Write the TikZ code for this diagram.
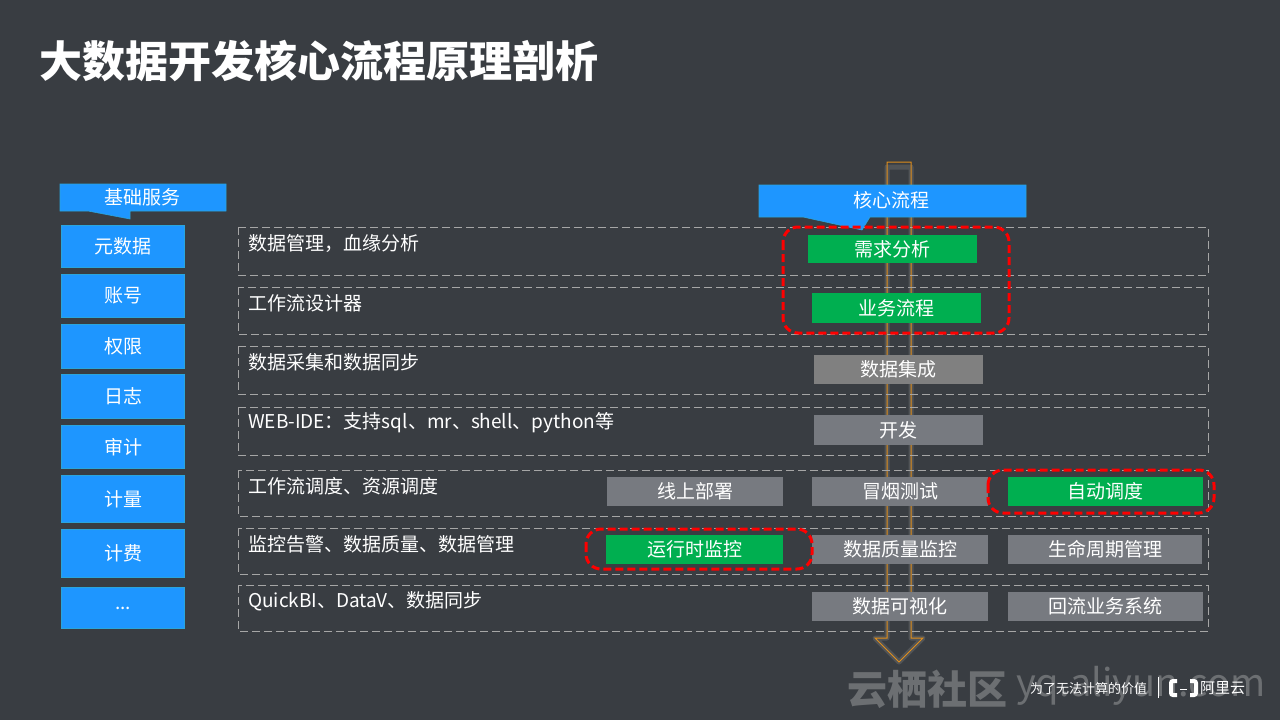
\documentclass[tikz,border=0pt]{standalone}
\usepackage{fontspec}
\usepackage{xcolor}
\setmainfont{Noto Sans CJK SC}
\definecolor{slideBg}{HTML}{393D42}
\definecolor{blueA}{HTML}{1E96FF}
\definecolor{blueB}{HTML}{2AA5DC}
\definecolor{greenA}{HTML}{00AF50}
\definecolor{grayA}{HTML}{777A80}
\definecolor{grayB}{HTML}{808080}
\definecolor{dashGray}{HTML}{A6A6A6}
\definecolor{arrowOrange}{HTML}{E08E1B}
\definecolor{markGray}{HTML}{6C6F72}
\tikzset{
  basebox/.style={draw=blueB,fill=blueA,line width=0.6pt},
  boxtext/.style={inner sep=0pt,text=white,font=\fontsize{19}{19}\selectfont},
  greenbox/.style={fill=greenA},
  graybox/.style={fill=grayA},
  rowbox/.style={draw=dashGray,dash pattern=on 8pt off 4pt,line width=0.9pt},
  redbox/.style={draw=red,line width=3pt,rounded corners=15pt,dash pattern=on 8pt off 4pt},
}
% box given by its two corners
\newcommand{\stepnode}[7]{%
  \pgfmathsetmacro{\boxcx}{(#2+#4)/2}
  \pgfmathsetmacro{\boxcy}{(#3+#5)/2}
  \pgfmathsetmacro{\boxw}{#4-#2-0.6}
  \pgfmathsetmacro{\boxh}{#5-#3-0.6}
  \node[#6,boxtext,minimum width=\boxw pt,minimum height=\boxh pt] (#1) at (\boxcx,\boxcy) {#7};
}
\begin{document}
\begin{tikzpicture}[x=1pt,y=-1pt]
  \fill[slideBg] (0,0) rectangle (1280,720);
  \useasboundingbox (0,0) rectangle (1280,720);

  \node[anchor=west,inner sep=0pt,text=white,font=\fontsize{43}{43}\selectfont\bfseries] (title) at (39,61) {大数据开发核心流程原理剖析};

  % big arrow behind the rows
  \draw[gray,opacity=0.35,line width=5pt,line join=round] (887,167) -- (911,167) -- (911,638) -- (923,638) -- (899,662) -- (875,638) -- (887,638) -- cycle;
  \draw[arrowOrange,line width=1pt] (887,162) -- (911,162) -- (911,638) -- (923,638) -- (899,662) -- (875,638) -- (887,638) -- cycle;

  % rows
  \foreach \rowname/\ya/\yb/\rowtext in {
    rowa/227/275/{数据管理，血缘分析},
    rowb/287/334/{工作流设计器},
    rowc/346/394/{数据采集和数据同步},
    rowd/407/455/{WEB-IDE：支持sql、mr、shell、python等},
    rowe/470/516/{工作流调度、资源调度},
    rowf/528/574/{监控告警、数据质量、数据管理},
    rowg/585/631/{QuickBI、DataV、数据同步}} {
    \draw[rowbox] (238,\ya) rectangle (1208,\yb);
    \pgfmathsetmacro{\ty}{\ya+16}
    \node[anchor=west,boxtext] (\rowname) at (248,\ty) {\rowtext};
  }

  % base services
  \draw[basebox] (60,184) -- (226,184) -- (226,211) -- (130,211) -- (130,219) -- (88,211) -- (60,211) -- cycle;
  \node[boxtext] (basetitle) at (142,197) {基础服务};
  \foreach \basename/\ya/\yb/\basetext in {
    basea/225/268/元数据, baseb/274/318/账号, basec/324/369/权限, based/374/419/日志,
    basee/425/469/审计, basef/475/523/计量, baseg/529/578/计费} {
    \stepnode{\basename}{61}{\ya}{185}{\yb}{basebox}{\basetext}
  }
  \stepnode{baseh}{61}{587}{185}{629}{basebox}{...}

  % core flow
  \draw[basebox] (759,185) -- (1026,185) -- (1026,217) -- (870,217) -- (862,230) -- (803,217) -- (759,217) -- cycle;
  \node[boxtext] (coretitle) at (891,200) {核心流程};

  \stepnode{need}{808}{235}{977}{263}{greenbox}{需求分析}
  \stepnode{biz}{812}{293}{981}{323}{greenbox}{业务流程}
  \stepnode{integ}{814}{355}{983}{384}{fill=grayB}{数据集成}
  \stepnode{dev}{814}{415}{983}{445}{graybox}{开发}
  \stepnode{deploy}{607}{477}{783}{506}{graybox}{线上部署}
  \stepnode{smoke}{812}{477}{988}{506}{graybox}{冒烟测试}
  \stepnode{sched}{1008}{477}{1203}{506}{greenbox}{自动调度}
  \stepnode{runmon}{606}{535}{783}{564}{greenbox}{运行时监控}
  \stepnode{qual}{812}{535}{988}{564}{graybox}{数据质量监控}
  \stepnode{life}{1008}{535}{1202}{564}{graybox}{生命周期管理}
  \stepnode{visual}{812}{592}{988}{621}{graybox}{数据可视化}
  \stepnode{back}{1008}{592}{1203}{621}{graybox}{回流业务系统}

  \draw[redbox] (783,227) rectangle (1009,333);
  \draw[redbox] (988,470) rectangle (1214,513);
  \draw[redbox] (586,529) rectangle (812,569);

  % footer
  \node[anchor=west,inner sep=0pt,text=markGray,font=\fontsize{40}{40}\selectfont\bfseries] (markcn) at (847,689) {云栖社区};
  \node[anchor=west,inner sep=0pt,text=markGray,font=\fontsize{38}{38}\selectfont] (markurl) at (1016,686) {yq.aliyun.com};
  \node[anchor=west,inner sep=0pt,text=white,font=\fontsize{13}{13}\selectfont] (slogan) at (1030,689) {为了无法计算的价值};
  \draw[white,line width=0.8pt] (1158,677) -- (1158,698);
  \draw[white,line width=4pt,rounded corners=2pt] (1177,681) -- (1171,681) -- (1171,695) -- (1177,695);
  \draw[white,line width=4pt,rounded corners=2pt] (1190,681) -- (1196,681) -- (1196,695) -- (1190,695);
  \draw[white,line width=1pt] (1180,689) -- (1187,689);
  \node[anchor=west,inner sep=0pt,text=white,font=\fontsize{15}{15}\selectfont] (aliyun) at (1200,688) {阿里云};
\end{tikzpicture}
\end{document}
